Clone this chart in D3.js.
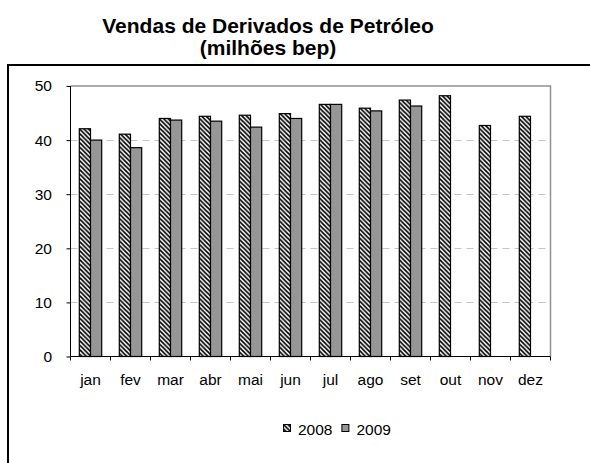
<!DOCTYPE html>
<html>
<head>
<meta charset="utf-8">
<script src="https://cdn.jsdelivr.net/npm/d3@7"></script>
<style>
  body { margin: 0; background: #fff; }
  text { font-family: "Liberation Sans", Arial, sans-serif; }
</style>
</head>
<body>
<svg id="chart" width="590" height="463"></svg>
<script>
// data
let months = ['jan', 'fev', 'mar', 'abr', 'mai', 'jun', 'jul', 'ago', 'set', 'out', 'nov', 'dez']
let years = ['2008', '2009']
let v2008 = [42.1, 41.1, 44.0, 44.4, 44.6, 44.9, 46.6, 45.9, 47.4, 48.2, 42.7, 44.4]
let v2009 = [40.0, 38.6, 43.7, 43.5, 42.4, 44.0, 46.6, 45.4, 46.3, null, null, null]
let yTicks = [0, 10, 20, 30, 40, 50]

let svg = d3.select('#chart')
let width = +svg.attr('width')

// hatch pattern (stripes running top-left to bottom-right)
let defs = svg.append('defs')
let pat = defs.append('pattern')
  .attr('id', 'hatch')
  .attr('patternUnits', 'userSpaceOnUse')
  .attr('width', 4.5)
  .attr('height', 4.5)
pat.append('rect').attr('width', 4.5).attr('height', 4.5).attr('fill', '#fff')
pat.append('path')
  .attr('d', 'M-1,3.5 L1,5.5 M0,0 L4.5,4.5 M3.5,-1 L5.5,1')
  .attr('stroke', '#000')
  .attr('stroke-width', 1.7)

let fills = { '2008': 'url(#hatch)', '2009': '#969696' }

// title
svg.append('text')
  .attr('x', width / 2 - 27).attr('y', 33)
  .attr('text-anchor', 'middle')
  .style('font-weight', 'bold').style('font-size', '21px')
  .text('Vendas de Derivados de Petróleo')
svg.append('text')
  .attr('x', width / 2 - 27).attr('y', 55)
  .attr('text-anchor', 'middle')
  .style('font-weight', 'bold').style('font-size', '21px')
  .text('(milhões bep)')

// outer frame (runs past right/bottom edges)
svg.append('path')
  .attr('d', 'M8,470 L8,65 L600,65')
  .attr('fill', 'none')
  .attr('stroke', '#000')
  .attr('stroke-width', 2)

let pLeft = 70.5, pRight = 550.5, pTop = 86, pBottom = 356.5

let x = d3.scaleBand().domain(months).range([pLeft, pRight])
let xi = d3.scaleBand().domain(years).range([8.8, 40 - 8.8])
let y = d3.scaleLinear().domain([0, 50]).range([pBottom, pTop])

// gridlines
svg.append('g')
  .selectAll('line')
  .data(yTicks.filter(function (d) { return d > 0 && d < 50 }))
  .enter().append('line')
  .attr('x1', pLeft).attr('x2', pRight)
  .attr('y1', function (d) { return Math.round(y(d)) + 0.5 })
  .attr('y2', function (d) { return Math.round(y(d)) + 0.5 })
  .attr('stroke', '#c4c4c4')
  .attr('stroke-dasharray', '7,5')

// plot border top and right
svg.append('path')
  .attr('d', 'M' + pLeft + ',' + pTop + ' L' + pRight + ',' + pTop + ' L' + pRight + ',' + pBottom)
  .attr('fill', 'none')
  .attr('stroke', '#909090')
  .attr('stroke-width', 1.5)

// bars
let rows = []
months.forEach(function (m, i) {
  rows.push({ m: m, yr: '2008', v: v2008[i] })
  if (v2009[i] != null) rows.push({ m: m, yr: '2009', v: v2009[i] })
})

svg.append('g')
  .selectAll('rect')
  .data(rows)
  .enter().append('rect')
  .attr('x', function (d) { return x(d.m) + xi(d.yr) })
  .attr('y', function (d) { return y(d.v) })
  .attr('width', xi.bandwidth())
  .attr('height', function (d) { return pBottom - y(d.v) })
  .attr('fill', function (d) { return fills[d.yr] })
  .attr('stroke', '#000')
  .attr('stroke-width', 1.2)

// axes
let yAxis = svg.append('g')
  .attr('transform', 'translate(' + pLeft + ',0)')
  .call(d3.axisLeft(y).tickValues(yTicks).tickSize(4).tickPadding(14.5))
yAxis.select('.domain').attr('d', 'M0,' + pTop + 'V' + pBottom)
yAxis.selectAll('text').style('font-size', '15.5px').attr('fill', '#000')

let xAxis = svg.append('g')
  .attr('transform', 'translate(0,' + pBottom + ')')
  .call(d3.axisBottom(x).tickSize(0).tickPadding(17.5))
xAxis.select('.domain').attr('d', 'M' + pLeft + ',0H' + pRight)
xAxis.selectAll('text').style('font-size', '15.5px').attr('fill', '#000')
xAxis.selectAll('.sep')
  .data(months.map(function (m) { return x(m) }).concat([pRight]))
  .enter().append('line')
  .attr('x1', function (d) { return d }).attr('x2', function (d) { return d })
  .attr('y1', 0).attr('y2', 4)
  .attr('stroke', '#000')

// legend
let legend = svg.append('g').attr('transform', 'translate(283,424)')
let lx = [0, 58.4]
years.forEach(function (yr, i) {
  legend.append('rect')
    .attr('x', lx[i] + 0.5).attr('y', 0.5)
    .attr('width', 7).attr('height', 7)
    .attr('fill', fills[yr])
    .attr('stroke', '#000')
  legend.append('text')
    .attr('x', lx[i] + 15).attr('y', 11)
    .style('font-size', '15.5px')
    .text(yr)
})
</script>
</body>
</html>
